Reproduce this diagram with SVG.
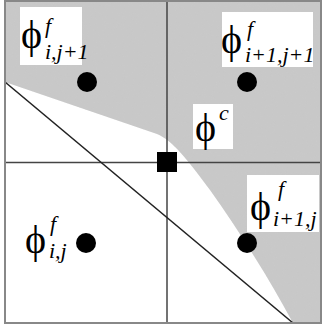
<svg xmlns="http://www.w3.org/2000/svg" width="323" height="328" viewBox="0 0 323 328">
<style>
.phi{font-family:"Liberation Serif","DejaVu Serif",serif;font-size:40px;fill:#000}
.sup{font-family:"Liberation Serif","DejaVu Serif",serif;font-style:italic;font-size:22px;fill:#000}
.sub{font-family:"Liberation Serif","DejaVu Serif",serif;font-style:italic;font-size:22px;fill:#000}
.box{fill:#fff}
.dot{fill:#000}
</style>
<defs>
<filter id="grain" x="0" y="0" width="100%" height="100%">
<feTurbulence type="fractalNoise" baseFrequency="0.9" numOctaves="2" seed="3" result="n"/>
<feColorMatrix in="n" type="matrix" values="0 0 0 0 0.6  0 0 0 0 0.6  0 0 0 0 0.6  0 0 0 0.8 -0.25" result="g"/>
<feComposite in="g" in2="SourceGraphic" operator="in" result="gi"/>
<feMerge><feMergeNode in="SourceGraphic"/><feMergeNode in="gi"/></feMerge>
</filter>
</defs>
<rect x="0" y="0" width="323" height="328" fill="#fff"/>
<g id="interface">
<path d="M5,82 L157,134 C172,140 188,160 210,190 C240,232 270,280 293,323 L321,323 L321,1 L5,1 Z" fill="#c8c8c8" filter="url(#grain)"/>
</g>
<g id="connectors" fill="none">
<line x1="167" y1="1" x2="167" y2="323" stroke="#444" stroke-width="1.5"/>
<line x1="5" y1="162.5" x2="321" y2="162.5" stroke="#444" stroke-width="1.5"/>
<line x1="5" y1="82" x2="293" y2="323" stroke="#222" stroke-width="1.6"/>
<rect x="5" y="1" width="316" height="322" stroke="#888" stroke-width="2"/>
</g>
<g id="center">
<rect x="157" y="152" width="20" height="20" fill="#000"/>
</g>
<g id="node-i-j1">
<rect class="box" x="20" y="7" width="62" height="58"/>
<text class="phi" x="21" y="48">ϕ</text>
<text class="sup" x="45" y="33">f</text>
<text class="sub" x="45" y="59">i,j+1</text>
<circle class="dot" cx="87" cy="82" r="10"/>
</g>
<g id="node-i1-j1">
<rect class="box" x="222" y="12" width="91" height="55"/>
<text class="phi" x="221" y="53">ϕ</text>
<text class="sup" x="247" y="36">f</text>
<text class="sub" x="245" y="62">i+1,j+1</text>
<circle class="dot" cx="247" cy="82" r="10"/>
</g>
<g id="node-c">
<rect class="box" x="193" y="104" width="40" height="45"/>
<text class="phi" x="195" y="141">ϕ</text>
<text class="sup" x="219" y="120">c</text>
</g>
<g id="node-i1-j">
<rect class="box" x="247" y="175" width="72" height="57"/>
<text class="phi" x="250" y="220">ϕ</text>
<text class="sup" x="278" y="196">f</text>
<text class="sub" x="273" y="226">i+1,j</text>
<circle class="dot" cx="247" cy="243" r="10"/>
</g>
<g id="node-i-j">
<text class="phi" x="25" y="253">ϕ</text>
<text class="sup" x="50" y="231">f</text>
<text class="sub" x="49" y="258">i,j</text>
<circle class="dot" cx="86" cy="243" r="10"/>
</g>
</svg>
